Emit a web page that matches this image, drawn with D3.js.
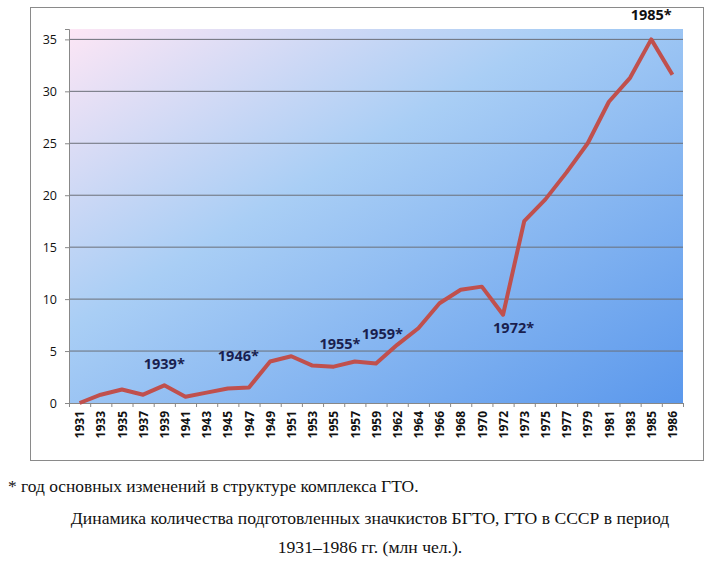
<!DOCTYPE html>
<html lang="ru">
<head>
<meta charset="utf-8">
<script src="https://cdn.jsdelivr.net/npm/d3@7"></script>
<style>
  html, body { margin: 0; background: #fff; }
</style>
</head>
<body>
<script>
const years = ["1931","1933","1935","1937","1939","1941","1943","1945","1947","1949","1951","1953","1955","1957","1959","1962","1964","1966","1968","1970","1972","1973","1975","1977","1979","1981","1983","1985","1986"];
const values = [0, 0.8, 1.3, 0.8, 1.7, 0.6, 1.0, 1.4, 1.5, 4.0, 4.5, 3.6, 3.5, 4.0, 3.8, 5.6, 7.2, 9.6, 10.9, 11.2, 8.5, 17.5, 19.6, 22.2, 25.0, 29.0, 31.3, 35.0, 31.6];
const yTicks = [0, 5, 10, 15, 20, 25, 30, 35];
const notes = [
  { text: "1939*", year: "1939", value: 3.3 },
  { text: "1946*", year: "1947", value: 4.0, shift: -0.5 },
  { text: "1955*", year: "1955", value: 5.2, shift: 0.3 },
  { text: "1959*", year: "1959", value: 6.2, shift: 0.3 },
  { text: "1972*", year: "1972", value: 6.7, shift: 0.5 },
  { text: "1985*", year: "1985", value: 36.9 }
];

const W = 713, H = 564;
const m = { left: 69, right: 30 };

const svg = d3.select("body").append("svg").attr("width", W).attr("height", H);

const grad = svg.append("defs").append("linearGradient").attr("id", "bg")
  .attr("x1", "0%").attr("y1", "0%").attr("x2", "100%").attr("y2", "100%");
grad.append("stop").attr("offset", "0%").attr("stop-color", "#fde6f5");
grad.append("stop").attr("offset", "40%").attr("stop-color", "#a9cef5");
grad.append("stop").attr("offset", "100%").attr("stop-color", "#5b98ec");

// outer frame
svg.append("rect").attr("x", 30.5).attr("y", 7.5).attr("width", 673).attr("height", 453)
  .attr("fill", "#fff").attr("stroke", "#8a8a8a");

const x = d3.scalePoint().domain(years).range([m.left, W - m.right]).padding(0.5);
const y = d3.scaleLinear().domain([0, 36]).range([403, 29]);

svg.append("rect").attr("x", m.left).attr("y", 29).attr("width", W - m.right - m.left).attr("height", 403 - 29)
  .attr("fill", "url(#bg)");

svg.append("g").selectAll("line").data(yTicks.filter(d => d > 0)).join("line")
  .attr("x1", m.left).attr("x2", W - m.right)
  .attr("y1", d => y(d)).attr("y2", d => y(d))
  .attr("stroke", "#6b6f78").attr("stroke-width", 1);

const yAxis = svg.append("g").attr("transform", `translate(${m.left},0)`)
  .call(d3.axisLeft(y).tickValues(yTicks).tickSize(4).tickPadding(8));
yAxis.select(".domain").attr("stroke", "#888");
yAxis.selectAll(".tick line").attr("stroke", "#888");
yAxis.selectAll("text").attr("font-family", "Open Sans, sans-serif").attr("font-size", 12.5).attr("fill", "#111");

const step = x.step();
const xAxis = svg.append("g").attr("transform", "translate(0,403)")
  .call(d3.axisBottom(x).tickSize(0).tickPadding(0));
xAxis.select(".domain").attr("stroke", "#888");
xAxis.selectAll(".tick").append("line")
  .attr("x1", step / 2).attr("x2", step / 2).attr("y1", 0).attr("y2", 4).attr("stroke", "#888");
xAxis.append("line").attr("x1", m.left + 0.5).attr("x2", m.left + 0.5).attr("y1", 0).attr("y2", 4).attr("stroke", "#888");
xAxis.selectAll("text")
  .attr("font-family", "Open Sans, sans-serif").attr("font-size", 12).attr("font-weight", "bold").attr("fill", "#111")
  .attr("transform", "rotate(-90)").attr("text-anchor", "end").attr("x", -8).attr("y", 0).attr("dy", "0.35em");

const line = d3.line().x((d, i) => x(years[i])).y(d => y(d));
svg.append("path").datum(values).attr("d", line)
  .attr("fill", "none").attr("stroke", "#c0504d").attr("stroke-width", 4).attr("stroke-linejoin", "round");

svg.append("g").selectAll("text").data(notes).join("text")
  .attr("x", d => x(d.year) + (d.shift || 0) * step)
  .attr("y", d => y(d.value))
  .attr("text-anchor", "middle")
  .attr("font-family", "Open Sans, sans-serif").attr("font-size", 14.5).attr("font-weight", "bold")
  .attr("fill", d => d.year === "1985" ? "#111" : "#1a1f4f")
  .text(d => d.text);

svg.append("text").attr("x", 8).attr("y", 492)
  .attr("font-family", "Liberation Serif, serif").attr("font-size", 17.4).attr("fill", "#111")
  .text("* год основных изменений в структуре комплекса ГТО.");
const caption = ["Динамика количества подготовленных значкистов БГТО, ГТО в СССР в период", "1931–1986 гг. (млн чел.)."];
svg.append("g").selectAll("text").data(caption).join("text")
  .attr("x", 370).attr("y", (d, i) => 524 + i * 29)
  .attr("text-anchor", "middle")
  .attr("font-family", "Liberation Serif, serif").attr("font-size", 17.6).attr("fill", "#111")
  .text(d => d);
</script>
</body>
</html>
